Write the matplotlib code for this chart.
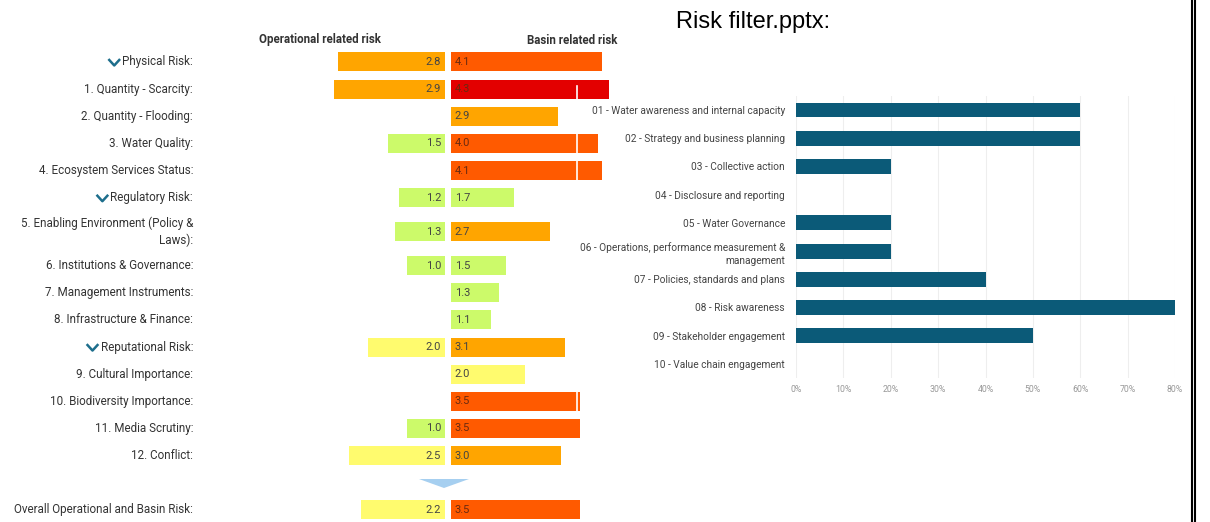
import numpy as np
import matplotlib.pyplot as plt
from matplotlib.lines import Line2D
from matplotlib.patches import Polygon
from matplotlib.transforms import blended_transform_factory

# risk filter table (left)
risk_labels = [
    "Physical Risk:",
    "1. Quantity - Scarcity:",
    "2. Quantity - Flooding:",
    "3. Water Quality:",
    "4. Ecosystem Services Status:",
    "Regulatory Risk:",
    "5. Enabling Environment (Policy &\nLaws):",
    "6. Institutions & Governance:",
    "7. Management Instruments:",
    "8. Infrastructure & Finance:",
    "Reputational Risk:",
    "9. Cultural Importance:",
    "10. Biodiversity Importance:",
    "11. Media Scrutiny:",
    "12. Conflict:",
]
operational = [2.8, 2.9, np.nan, 1.5, np.nan, 1.2, 1.3, 1.0, np.nan, np.nan,
               2.0, np.nan, np.nan, 1.0, 2.5]
basin = [4.1, 4.3, 2.9, 4.0, 4.1, 1.7, 2.7, 1.5, 1.3, 1.1,
         3.1, 2.0, 3.5, 3.5, 3.0]
group_rows = [0, 5, 10]
overall_label = "Overall Operational and Basin Risk:"
overall_operational = 2.2
overall_basin = 3.5

# response actions chart (right)
actions = [
    "01 - Water awareness and internal capacity",
    "02 - Strategy and business planning",
    "03 - Collective action",
    "04 - Disclosure and reporting",
    "05 - Water Governance",
    "06 - Operations, performance measurement &\nmanagement",
    "07 - Policies, standards and plans",
    "08 - Risk awareness",
    "09 - Stakeholder engagement",
    "10 - Value chain engagement",
]
action_share = [60, 60, 20, 0, 20, 20, 40, 80, 50, 0]
pct_ticks = [0, 10, 20, 30, 40, 50, 60, 70, 80]

NARROW = ['Roboto', 'DejaVu Sans']
W, H = 1210, 522
fig = plt.figure(figsize=(W / 100, H / 100), dpi=100)


def px_axes(x0, y0, x1, y1):
    return fig.add_axes([x0 / W, 1 - y1 / H, (x1 - x0) / W, (y1 - y0) / H])


def risk_color(v):
    if v < 1.8:
        return '#ccfa6a'
    if v < 2.6:
        return '#fffb6e'
    if v < 3.4:
        return '#ffa500'
    if v < 4.2:
        return '#ff5a00'
    return '#e30000'


def text_color(v):
    return '#6a2a10' if v >= 3.4 else '#444444'


# row layout: the two-line label row is taller
row_h = np.ones(17)
row_h[6] = 1.5
row_y = np.cumsum(row_h) - row_h / 2
unit = 27.15
top = 48.4
bottom = top + unit * row_h.sum()

ax_op = px_axes(330, top, 445, bottom)
ax_ba = px_axes(451, top, 616.6, bottom)

ys = list(row_y[:15]) + [row_y[16]]
op_vals = operational + [overall_operational]
ba_vals = basin + [overall_basin]

for y, v in zip(ys, op_vals):
    if np.isnan(v):
        continue
    ax_op.barh(y, v, height=0.7, color=risk_color(v))
    ax_op.text(0.1, y, f"{v:.1f}", ha='right', va='center', fontsize=8,
               color=text_color(v), family=NARROW)
for y, v in zip(ys, ba_vals):
    ax_ba.barh(y, v, height=0.7, color=risk_color(v))
    ax_ba.text(0.1, y, f"{v:.1f}", ha='left', va='center', fontsize=8,
               color=text_color(v), family=NARROW)

ax_op.set_xlim(3.0, 0)
ax_ba.set_xlim(0, 4.5)
for ax in (ax_op, ax_ba):
    ax.set_ylim(row_h.sum(), 0)
    ax.axis('off')

tr = blended_transform_factory(fig.transFigure, ax_op.transData)
label_texts = []
for y, lab in zip(ys, risk_labels + [overall_label]):
    t = fig.text(193 / W, y, lab, transform=tr, ha='right', va='center',
                 fontsize=8.4, color='#333333', family=NARROW, linespacing=1.35)
    label_texts.append(t)

fig.text(320 / W, 1 - 40 / H, "Operational related risk", ha='center', va='center',
         fontsize=8.3, weight='bold', color='#333333', family=NARROW)
fig.text(617 / W, 1 - 40 / H, "Basin related risk", ha='right', va='center',
         fontsize=8.3, weight='bold', color='#333333', family=NARROW)

# down arrow between the last risk and the overall row
tri = [(419, 479), (469, 479), (444, 488)]
fig.add_artist(Polygon([(x / W, 1 - y / H) for x, y in tri], closed=True,
                       transform=fig.transFigure, color='#a6cff0', lw=0))

# white seam from the overlapping screenshot
fig.add_artist(Line2D([577 / W] * 2, [1 - 86 / H, 1 - 412 / H], color='white', lw=1.2))

fig.text(676 / W, 1 - 22 / H, "Risk filter.pptx:", ha='left', va='center',
         fontsize=17, color='black', family=['Liberation Sans', 'DejaVu Sans'])

# right chart
ax_r = px_axes(796, 95.9, 1175, 378)
ax_r.barh(range(len(actions)), action_share, height=0.53, color='#0b5a78')
ax_r.set_xlim(0, 80)
ax_r.set_ylim(len(actions) - 0.5, -0.5)
ax_r.set_xticks(pct_ticks)
ax_r.set_xticklabels([f"{t}%" for t in pct_ticks], fontsize=6.3, color='#999999',
                     family=NARROW)
ax_r.set_yticks(range(len(actions)))
ax_r.set_yticklabels(actions, fontsize=7.3, color='#444444', family=NARROW)
for t in ax_r.get_yticklabels():
    t.set_linespacing(1.4)
ax_r.tick_params(axis='both', length=0)
ax_r.tick_params(axis='y', pad=8)
ax_r.tick_params(axis='x', pad=5)
ax_r.grid(axis='x', color='#eeeeee', lw=0.8)
ax_r.set_axisbelow(True)
for s in ax_r.spines.values():
    s.set_visible(False)

# double border on the right
for x in (1192, 1195.3):
    fig.add_artist(Line2D([x / W] * 2, [0, 1], color='black', lw=1.5))

# chevrons in front of group labels
fig.canvas.draw()
for i in group_rows:
    bb = label_texts[i].get_window_extent()
    cx = bb.x0 - 8
    cy = (bb.y0 + bb.y1) / 2
    xs = [cx - 5, cx, cx + 5]
    yv = [cy + 2, cy - 3.5, cy + 2]
    fig.add_artist(Line2D([x / W for x in xs], [y / H for y in yv],
                          color='#1d6e8c', lw=1.8))

fig.savefig('out.png', dpi=100)
